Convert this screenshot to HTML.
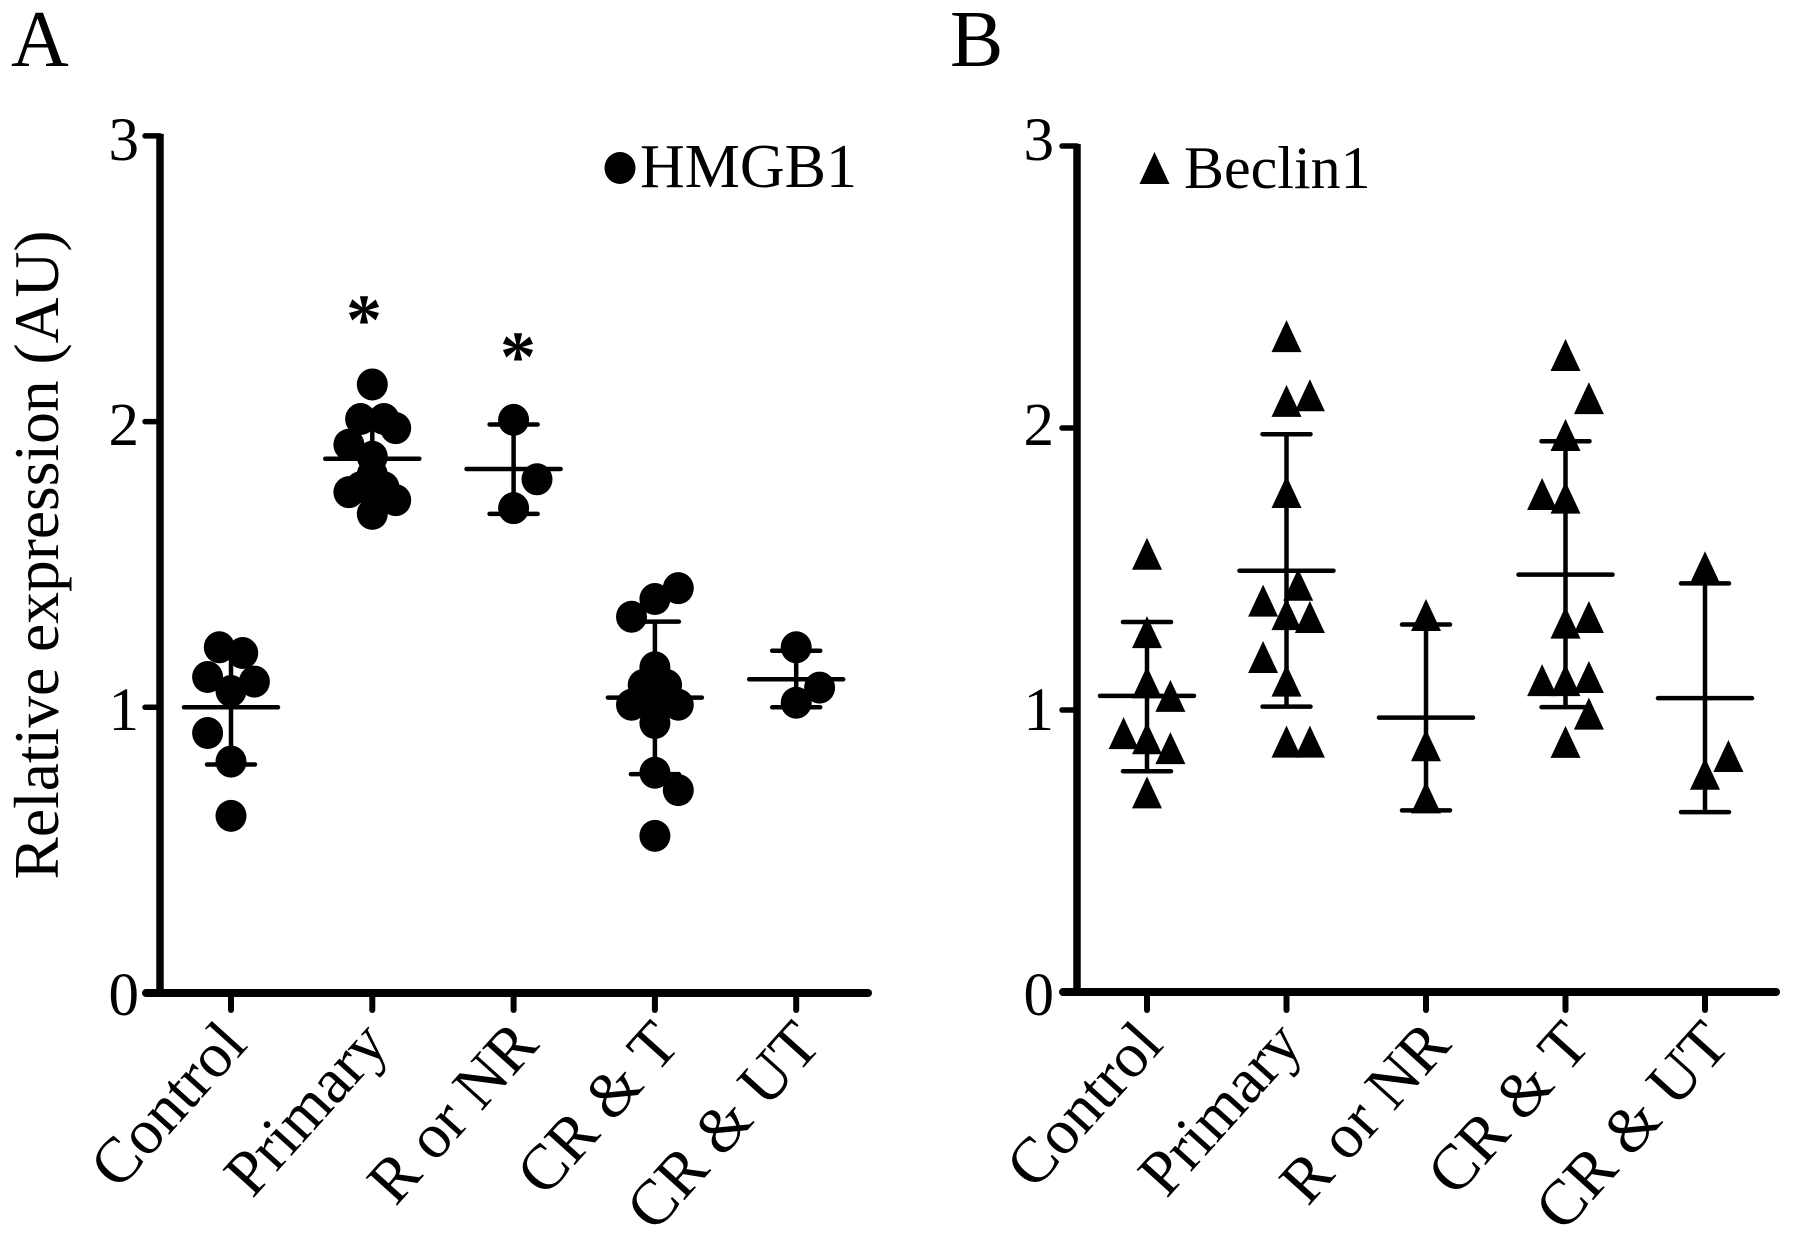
<!DOCTYPE html>
<html lang="en">
<head>
<meta charset="utf-8">
<title>HMGB1 and Beclin1 relative expression</title>
<style>
  html, body { margin: 0; padding: 0; background: #fff; }
  svg { display: block; }
  text { font-family: "Liberation Serif", serif; fill: #000; }
</style>
</head>
<body>
<svg id="figure" xmlns="http://www.w3.org/2000/svg" width="1795" height="1237" viewBox="0 0 1795 1237">
  <rect x="0" y="0" width="1795" height="1237" fill="#fff"/>
  <text x="11" y="66" font-size="80">A</text>
  <text x="950" y="66" font-size="80">B</text>
  <text transform="translate(58 555) rotate(-90)" text-anchor="middle" font-size="63.5">Relative expression (AU)</text>
  <ellipse cx="620" cy="168" rx="15.5" ry="16" fill="#000"/>
  <text x="640" y="187" font-size="62">HMGB1</text>
  <polygon points="1154.5,152 1169.5,184 1139.5,184" fill="#000"/>
  <text x="1184" y="188" font-size="60">Beclin1</text>
  <text x="364" y="344" text-anchor="middle" font-size="72" font-weight="bold">*</text>
  <text x="518" y="381" text-anchor="middle" font-size="72" font-weight="bold">*</text>
</svg>
<script>
const categories = ['Control', 'Primary', 'R or NR', 'CR & T', 'CR & UT'];
const yTickValues = [0, 1, 2, 3];

const hmgb1Values = [
  [1.21, 1.19, 1.106, 1.09, 1.057, 0.91, 0.81, 0.62],
  [2.13, 2.009, 2.009, 1.977, 1.919, 1.877, 1.815, 1.77, 1.77, 1.753, 1.725, 1.677],
  [2.006, 1.798, 1.697],
  [1.417, 1.379, 1.317, 1.14, 1.078, 1.078, 1.034, 1.009, 1.009, 0.945, 0.771, 0.71, 0.55],
  [1.21, 1.069, 1.016]
];
const hmgb1Slots = [
  [-1, 1, -2, 2, 0, -2, 0, 0],
  [0, -1, 1, 2, -2, 0, 0, -1, 1, -2, 2, 0],
  [0, 2, 0],
  [2, 0, -2, 0, -1, 1, 0, -2, 2, 0, 0, 2, 0],
  [0, 2, 0]
];
const hmgb1Means = [1.0, 1.87, 1.834, 1.034, 1.098];
const hmgb1Upper = [1.2, 2.0, 1.99, 1.30, 1.198];
const hmgb1Lower = [0.8, 1.75, 1.677, 0.766, 1.0];

const beclinValues = [
  [1.554, 1.276, 1.098, 1.05, 0.918, 0.90, 0.865, 0.708],
  [2.326, 2.116, 2.096, 1.773, 1.444, 1.388, 1.34, 1.33, 1.188, 1.104, 0.888, 0.888],
  [1.337, 0.875, 0.69],
  [2.259, 2.106, 1.975, 1.766, 1.753, 1.33, 1.31, 1.117, 1.106, 1.106, 0.987, 0.887],
  [1.506, 0.837, 0.774]
];
const beclinSlots = [
  [0, 0, 0, 2, -2, 0, 2, 0],
  [0, 2, 0, 0, 1, -2, 0, 2, -2, 0, 0, 2],
  [0, 0, 0],
  [0, 2, 0, -2, 0, 2, 0, 2, -2, 0, 2, 0],
  [0, 2, 0]
];
const beclinMeans = [1.05, 1.494, 0.973, 1.48, 1.042];
const beclinUpper = [1.312, 1.978, 1.303, 1.953, 1.449];
const beclinLower = [0.783, 1.012, 0.644, 1.01, 0.638];

const svgNS = 'http://www.w3.org/2000/svg';
const figure = document.getElementById('figure');

function make(tag, parent, attrs) {
  const el = document.createElementNS(svgNS, tag);
  Object.keys(attrs).forEach(function (k) { el.setAttribute(k, attrs[k]); });
  parent.appendChild(el);
  return el;
}

function drawLine(parent, name, x1, y1, x2, y2, width, cap) {
  const el = make('line', parent, { x1: x1, y1: y1, x2: x2, y2: y2, stroke: '#000', 'stroke-width': width, 'stroke-linecap': cap });
  
  
  return el;
}

function drawPanel(cfg) {
  const yScale = function (v) { return cfg.y0 - v * cfg.yUnit; };
  const xScale = function (i) { return cfg.x0 + i * cfg.xStep; };
  const labelY = function (v) { return 1015 - v * 285; };

  const group = make('g', figure, {});
  
  

  drawLine(group, cfg.name + '-y-axis', cfg.axisX, yScale(3) - 2, cfg.axisX, yScale(0), 7.5, 'butt');
  drawLine(group, cfg.name + '-x-axis', cfg.axisX - 14, yScale(0), cfg.axisEnd, yScale(0), 8, 'round');

  yTickValues.forEach(function (v) {
    drawLine(group, cfg.name + '-y-tick-' + v, cfg.axisX - 15, yScale(v), cfg.axisX, yScale(v), 5.5, 'round');
    const t = make('text', group, { x: cfg.axisX - cfg.labelGap, y: labelY(v), 'text-anchor': 'end', 'font-size': 61 });
    
    
    t.textContent = String(v);
  });

  categories.forEach(function (c, i) {
    const x = xScale(i);
    const key = c.toLowerCase().replace(/[^a-z]+/g, '-');
    drawLine(group, cfg.name + '-x-tick-' + key, x, yScale(0), x, 1010, 6, 'round');
    const labelX = x + 18 + (i >= 2 ? 9 : 0);
    const t = make('text', group, { transform: 'translate(' + labelX + ' 1046) rotate(-48)', 'text-anchor': 'end', 'font-size': 64 });
    
    
    t.textContent = c;

    drawLine(group, cfg.name + '-error-bar-' + key, x, yScale(cfg.upper[i]), x, yScale(cfg.lower[i]), 4.5, 'butt');
    drawLine(group, cfg.name + '-upper-cap-' + key, x - 24, yScale(cfg.upper[i]), x + 24, yScale(cfg.upper[i]), 4.5, 'round');
    drawLine(group, cfg.name + '-lower-cap-' + key, x - 24, yScale(cfg.lower[i]), x + 24, yScale(cfg.lower[i]), 4.5, 'round');
    drawLine(group, cfg.name + '-mean-' + key, x - 47, yScale(cfg.means[i]), x + 47, yScale(cfg.means[i]), 4.5, 'round');

    cfg.values[i].forEach(function (v, j) {
      const px = x + cfg.slots[i][j] * cfg.slotWidth;
      const py = yScale(v);
      let mark;
      if (cfg.marker === 'circle') {
        mark = make('ellipse', group, { cx: px, cy: py, rx: 15.5, ry: 16, fill: '#000' });
      } else {
        mark = make('polygon', group, {
          points: px + ',' + (py - 16) + ' ' + (px + 15) + ',' + (py + 16) + ' ' + (px - 15) + ',' + (py + 16),
          fill: '#000'
        });
      }
      
      
    });
  });
}

drawPanel({
  name: 'hmgb1', marker: 'circle', axisX: 160, axisEnd: 868, x0: 231, xStep: 141.3, y0: 993, yUnit: 285.7, slotWidth: 11.7, labelGap: 21,
  values: hmgb1Values, slots: hmgb1Slots, means: hmgb1Means, upper: hmgb1Upper, lower: hmgb1Lower
});
drawPanel({
  name: 'beclin1', marker: 'triangle', axisX: 1077, axisEnd: 1776, x0: 1147, xStep: 139.5, y0: 992, yUnit: 282, slotWidth: 11.7, labelGap: 23,
  values: beclinValues, slots: beclinSlots, means: beclinMeans, upper: beclinUpper, lower: beclinLower
});
</script>
</body>
</html>
